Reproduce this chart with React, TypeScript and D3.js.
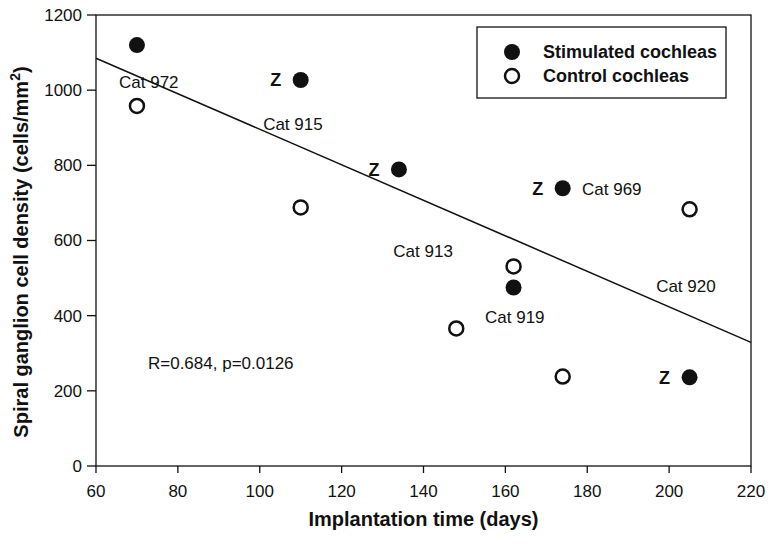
import React from "react";
import * as d3 from "d3";

const stimulatedDays = [70, 110, 134, 174, 162, 205];
const stimulatedDensity = [1120, 1027, 789, 739, 475, 236];
const controlDays = [70, 110, 162, 148, 174, 205];
const controlDensity = [958, 688, 531, 366, 238, 683];
const zMarked = [1, 2, 3, 5];
const catLabels = ["Cat 972", "Cat 915", "Cat 913", "Cat 919", "Cat 969", "Cat 920"];
const catLabelDays = [72.9, 108.1, 139.9, 162.3, 186, 204.1];
const catLabelDensity = [1021, 909, 571, 397, 736, 480];
const fitDays = [60, 220];
const fitDensity = [1085, 329];
const xTicks = [60, 80, 100, 120, 140, 160, 180, 200, 220];
const yTicks = [0, 200, 400, 600, 800, 1000, 1200];
const legendLabels = ["Stimulated cochleas", "Control cochleas"];
const statsText = "R=0.684, p=0.0126";
const statsDay = 72.7;
const statsDensity = 275;

const W = 769, H = 546;
const L = 96, R = 751, T = 15, B = 466;
const FONT = "'Liberation Sans', Arial, sans-serif";

export default function App() {
  const x = d3.scaleLinear().domain([60, 220]).range([L, R]);
  const y = d3.scaleLinear().domain([0, 1200]).range([B, T]);
  const line = d3.line<number>().x((d, i) => x(fitDays[i])).y((d, i) => y(fitDensity[i]));
  return (
    <svg width={W} height={H} style={{ position: "absolute", left: 0, top: 0, background: "#fff" }} fontFamily={FONT}>
      <rect x={0} y={0} width={W} height={H} fill="#fff" />
      {/* frame */}
      <rect x={L} y={T} width={R - L} height={B - T} fill="none" stroke="#111" strokeWidth={1.3} />
      {/* y ticks */}
      {yTicks.map((t) => (
        <g key={"y" + t}>
          <line x1={L - 9} x2={L} y1={y(t)} y2={y(t)} stroke="#111" strokeWidth={1.3} />
          <text x={L - 14} y={y(t)} dy="0.35em" textAnchor="end" fontSize={17} fill="#111">{t}</text>
        </g>
      ))}
      {/* x ticks */}
      {xTicks.map((t) => (
        <g key={"x" + t}>
          <line x1={x(t)} x2={x(t)} y1={B} y2={B + 7} stroke="#111" strokeWidth={1.3} />
          <text x={x(t)} y={B + 31} textAnchor="middle" fontSize={17} fill="#111">{t}</text>
        </g>
      ))}
      {/* axis titles */}
      <text x={(L + R) / 2} y={526} textAnchor="middle" fontSize={20} fontWeight="bold" fill="#111">Implantation time (days)</text>
      <text transform={`translate(28,252) rotate(-90)`} textAnchor="middle" fontSize={20} fontWeight="bold" fill="#111">
        <tspan>Spiral ganglion cell density (cells/mm</tspan><tspan dy={-8} fontSize={14}>2</tspan><tspan dy={8}>)</tspan>
      </text>
      {/* regression line */}
      <path d={line(fitDays) || ""} fill="none" stroke="#111" strokeWidth={1.5} />
      {/* points */}
      {stimulatedDays.map((d, i) => (
        <circle key={"s" + i} cx={x(d)} cy={y(stimulatedDensity[i])} r={8} fill="#111" />
      ))}
      {controlDays.map((d, i) => (
        <circle key={"c" + i} cx={x(d)} cy={y(controlDensity[i])} r={7} fill="#fff" stroke="#111" strokeWidth={2.5} />
      ))}
      {/* Z markers */}
      {zMarked.map((i) => (
        <text key={"z" + i} x={x(stimulatedDays[i]) - 25} y={y(stimulatedDensity[i])} dy="0.36em" textAnchor="middle" fontSize={18} fontWeight="bold" fill="#111">Z</text>
      ))}
      {/* cat labels */}
      {catLabels.map((c, i) => (
        <text key={c} x={x(catLabelDays[i])} y={y(catLabelDensity[i])} dy="0.35em" textAnchor="middle" fontSize={17} fill="#111">{c}</text>
      ))}
      <text x={x(statsDay)} y={y(statsDensity)} dy="0.35em" fontSize={17} fill="#111">{statsText}</text>
      {/* legend */}
      <rect x={477} y={27} width={249} height={71} fill="#fff" stroke="#111" strokeWidth={1.3} />
      {legendLabels.map((lab, i) => (
        <g key={lab}>
          {i === 0 ? (
            <circle cx={512} cy={52 + i * 24} r={8} fill="#111" />
          ) : (
            <circle cx={512} cy={52 + i * 24} r={7} fill="#fff" stroke="#111" strokeWidth={2.5} />
          )}
          <text x={543} y={52 + i * 24} dy="0.36em" fontSize={18} fontWeight="bold" fill="#111">{lab}</text>
        </g>
      ))}
    </svg>
  );
}
